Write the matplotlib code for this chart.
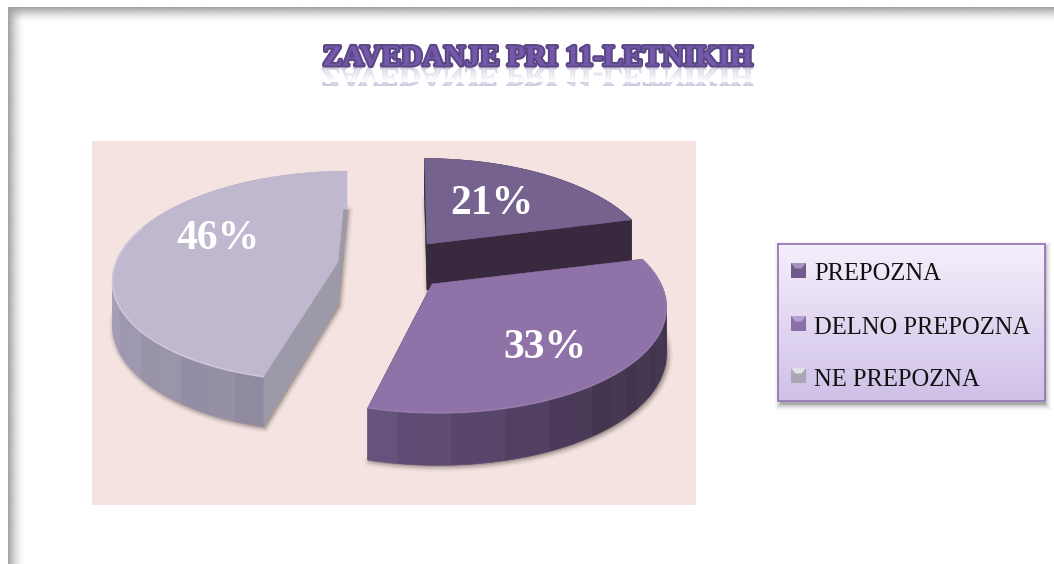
import numpy as np
import matplotlib
matplotlib.use("Agg")
import matplotlib.pyplot as plt
from matplotlib.collections import PolyCollection
from matplotlib.patches import Polygon, Rectangle, PathPatch
from matplotlib.textpath import TextPath
from matplotlib.font_manager import FontProperties
from matplotlib.transforms import Affine2D
import matplotlib.patheffects as pe
from matplotlib.colors import to_rgb

# ---- data ----
title = "ZAVEDANJE PRI 11-LETNIKIH"
categories = ["PREPOZNA", "DELNO PREPOZNA", "NE PREPOZNA"]
values = [21, 33, 46]

# ---- styles ----
top_colors = ["#75628f", "#8e72a8", "#c0b8cf"]
wall_start = ["#38293f", "#443550", "#918ca2"]   # wall colour at the start of the arc
wall_end = ["#38293f", "#64507a", "#c0bad4"]
radial_colors = ["#38293f", "#3d2e49", "#9c99a8"]
stripe = [0.0, 0.006, 0.008]
bevel_alpha = [0.0, 0.3, 0.75]
marker_colors = ["#6f5a8b", "#8b70a8", "#aaa6b4"]
marker_lights = ["#a594bd", "#b8a2d2", "#e2e0e8"]
# per-slice exploded placement: centre x, centre y, a, b, perspective, skew, depth
cx = [427, 432, 338]
cy = [244, 284, 262]
ax_a = [222, 229, 222]
ax_b = [102, 104, 103]
persp = [0.194, 0.194, 0.135]
skew = [-3, -5, 10]
depth = [46, 45, 43]
label_shift = [(3, -3), (-5, 12), (-1, -16)]
label_r = [0.5, 0.65, 0.55]

W, H = 1054, 564
SERIF = "Liberation Serif"
fig = plt.figure(figsize=(W / 100, H / 100), dpi=100, facecolor="white")
ax = fig.add_axes([0, 0, 1, 1])
ax.set_xlim(0, W)
ax.set_ylim(H, 0)
ax.axis("off")

# page border
t = np.linspace(0, 1, 64)
top_img = np.ones((64, 1, 4))
top_img[:, 0, :3] = to_rgb("#a2a2a2")
top_img[:, 0, 3] = (1 - t) ** 1.5
left_img = np.ones((1, 64, 4))
left_img[0, :, :3] = to_rgb("#a2a2a2")
left_img[0, :, 3] = (1 - t) ** 1.5
ax.imshow(top_img, extent=(8, W, 22, 7), aspect="auto", zorder=1)
ax.imshow(left_img, extent=(8, 24, H, 7), aspect="auto", zorder=1)

# chart panel
ax.add_patch(Rectangle((92, 141), 604, 364, fc="#f4e3e0", ec="none", zorder=2))


def project(i, ang, r=1.0):
    u = r * np.cos(ang)
    v = r * np.sin(ang)
    d = 1 + persp[i] * v
    return cx[i] + (ax_a[i] * u + skew[i] * v) / d, cy[i] - ax_b[i] * v / d


def thick(i, ang, r=1.0):
    return depth[i] / (1 + 0.14 * r * np.sin(ang))


# slice angles come from the values, clockwise from 12 o'clock
fr = np.array(values, float) / np.sum(values)
edges = np.pi / 2 - 2 * np.pi * np.concatenate([[0], np.cumsum(fr)])

for i in [0, 2, 1]:
    z = 3 + [0, 2, 1][i]
    a0, a1 = edges[i], edges[i + 1]
    angs = np.linspace(a0, a1, 120)
    ax0, ay0 = project(i, 0, 0)
    arc = np.array([project(i, a) for a in angs])
    tk = np.array([thick(i, a) for a in angs])
    tk0 = depth[i]
    top_poly = np.vstack([[ax0, ay0], arc])
    bottom_poly = np.vstack([[ax0, ay0 + tk0], arc + np.c_[np.zeros_like(tk), tk]])

    # soft shadow
    for lw, al in [(7, 0.06), (4.5, 0.10), (2.5, 0.16)]:
        ax.add_patch(Polygon(bottom_poly + [1.5, 1.5], closed=True, fc="#5c4f4c", ec="#5c4f4c",
                             lw=lw, alpha=al, zorder=z, joinstyle="round"))

    # radial walls
    for ang in (a0, a1):
        p = np.array(project(i, ang))
        q = p + [0, thick(i, ang)]
        ax.add_patch(Polygon([[ax0, ay0], p, q, [ax0, ay0 + tk0]], closed=True,
                             fc=radial_colors[i], ec=radial_colors[i], lw=0.4, zorder=z + 0.1))

    # curved wall with vertical facets
    n_f = 22
    idx = np.linspace(0, len(angs) - 1, n_f + 1).astype(int)
    quads, cols = [], []
    c0, c1 = np.array(to_rgb(wall_start[i])), np.array(to_rgb(wall_end[i]))
    for k in range(n_f):
        j0, j1 = idx[k], idx[k + 1]
        seg_top = arc[j0:j1 + 1]
        seg_bot = (arc + np.c_[np.zeros_like(tk), tk])[j0:j1 + 1][::-1]
        quads.append(np.vstack([seg_top, seg_bot]))
        tt = k / (n_f - 1)
        if i == 1:
            tt = max(0, (tt - 0.55) / 0.45)
        col = c0 * (1 - tt) + c1 * tt
        col = np.clip(col + (stripe[i] if k % 2 else -stripe[i]), 0, 1)
        cols.append(col)
    ax.add_collection(PolyCollection(quads, facecolors=cols, edgecolors=cols, linewidths=0.4, zorder=z + 0.2))

    # top face and bevel highlight
    ax.add_patch(Polygon(top_poly, closed=True, fc=top_colors[i], ec=top_colors[i], lw=0.4, zorder=z + 0.3))
    light = np.array(to_rgb(top_colors[i])) * 0.65 + 0.35
    front = np.sin(angs) < 0.35
    if bevel_alpha[i] > 0:
        ax.plot(arc[front, 0], arc[front, 1], color=light, lw=1.1, alpha=bevel_alpha[i], zorder=z + 0.4,
                solid_capstyle="round")

    # value label
    mid = (a0 + a1) / 2
    lx, ly = project(i, mid, label_r[i])
    ax.text(lx + label_shift[i][0], ly + label_shift[i][1], f"{values[i]}%", color="white", fontsize=30,
            fontweight="bold", family=SERIF, ha="center", va="center", zorder=8)

# legend
for lw, al in [(8, 0.07), (5, 0.10), (2.5, 0.18)]:
    ax.add_patch(Rectangle((780, 247), 265, 157, fc="#555555", ec="#555555", lw=lw, alpha=al, zorder=5))
tl = np.linspace(0, 1, 128)
leg_img = (np.outer(1 - tl, to_rgb("#f4effb")) + np.outer(tl, to_rgb("#cfc0e7")))[:, None, :]
ax.imshow(leg_img, extent=(778, 1045, 401, 244), aspect="auto", zorder=6)
ax.add_patch(Rectangle((778, 244), 267, 157, fc="none", ec="#9778b5", lw=1.3, zorder=6.5))
row_y = [272, 325, 377]
for name, y, c, cl in zip(categories, row_y, marker_colors, marker_lights):
    ax.add_patch(Rectangle((791, y - 9), 15, 15, fc=c, ec="none", zorder=7))
    ax.add_patch(Polygon([[791, y - 9], [806, y - 9], [801.5, y - 3.5], [795.5, y - 3.5]], closed=True,
                         fc=cl, ec="none", zorder=7.1))
    ax.text(814, y + 2.5, name, family=SERIF, fontsize=17.7, color="#111111", ha="left", va="center", zorder=8)

# title with reflection
tfp = FontProperties(family=SERIF, weight="bold")
tp = TextPath((0, 0), title, size=38, prop=tfp)
ext = tp.get_extents()
sx = 431 / ext.width
sy = 24 / ext.height
ref = PathPatch(tp, fc="#7d68a6", ec="#7d68a6", lw=0.8, alpha=0.25, zorder=2,
                transform=Affine2D().scale(sx, sy * 0.75).translate(322 - ext.x0 * sx, 68) + ax.transData)
ax.add_patch(ref)
fade = np.ones((64, 1, 4))
fade[:, 0, 3] = np.linspace(0.1, 1, 64)
ax.imshow(fade, extent=(300, 780, 82, 68), aspect="auto", zorder=2.5)
ax.text(537.5, 65.5, title, family=SERIF, fontweight="bold", fontsize=38 * sx * 0.715, color="#7558ac",
        ha="center", va="baseline", zorder=9,
        path_effects=[pe.withStroke(linewidth=3.0, foreground="#5a4885")])

ax.set_xlim(0, W)
ax.set_ylim(H, 0)
fig.savefig("out.png", dpi=100, facecolor="white")
